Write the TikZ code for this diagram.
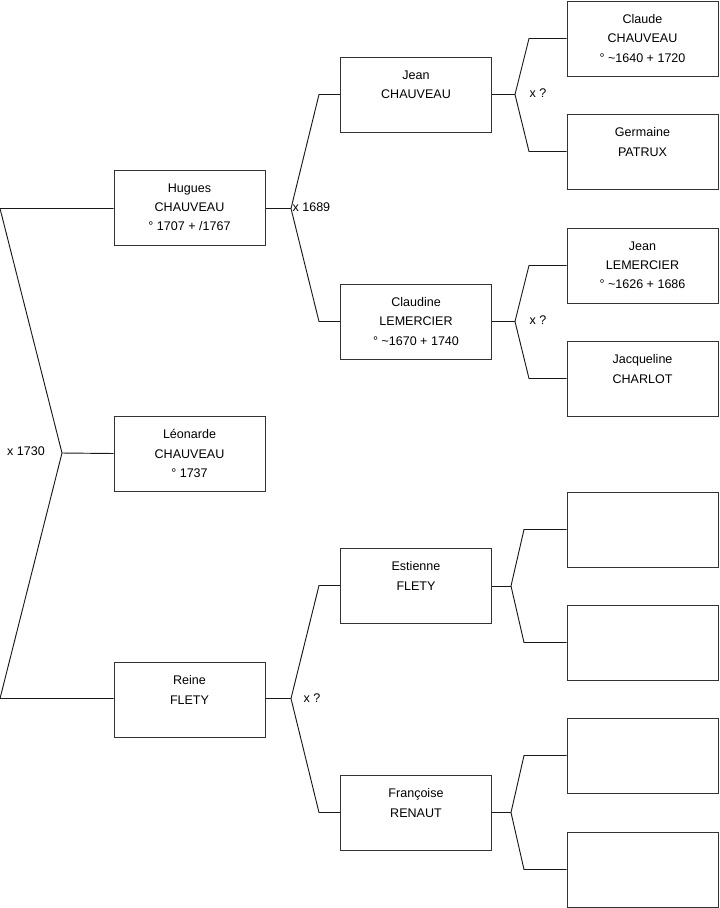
\documentclass[tikz,border=0pt]{standalone}
\usepackage{fontspec}
\setmainfont{Liberation Sans}
\usetikzlibrary{positioning}

\tikzset{
  person/.style={draw=black!80, line width=0.75pt, minimum width=113.25pt, minimum height=56.25pt,
                 align=center, font=\fontsize{9.4}{14.4}\selectfont, inner sep=0pt},
  link/.style={black!90, line width=0.7pt},
  union/.style={font=\fontsize{9.4}{11}\selectfont, inner sep=1pt}
}

\begin{document}
\begin{tikzpicture}[x=0.75pt, y=-0.75pt]
  \useasboundingbox (0,0) rectangle (719,908);
  % generation 1 and 2
  \node[person] (hugues)    at (189.5,207.5) {Hugues\\CHAUVEAU\\° 1707 + /1767};
  \node[person] (leonarde)  at (189.5,453.5) {Léonarde\\CHAUVEAU\\° 1737};
  \node[person] (reine)     at (189.5,699.5) {Reine\\FLETY\\\mbox{}};
  % generation 3
  \node[person] (jeanC)     at (416,94.5)  {Jean\\CHAUVEAU\\\mbox{}};
  \node[person] (claudine)  at (416,321.5) {Claudine\\LEMERCIER\\° \textasciitilde1670 + 1740};
  \node[person] (estienne)  at (416,585.5) {Estienne\\FLETY\\\mbox{}};
  \node[person] (francoise) at (416,812.5) {Françoise\\RENAUT\\\mbox{}};
  % generation 4
  \node[person] (claude)     at (642.5,38.5)  {Claude\\CHAUVEAU\\° \textasciitilde1640 + 1720};
  \node[person] (germaine)   at (642.5,151.5) {Germaine\\PATRUX\\\mbox{}};
  \node[person] (jeanL)      at (642.5,265.5) {Jean\\LEMERCIER\\° \textasciitilde1626 + 1686};
  \node[person] (jacqueline) at (642.5,378.5) {Jacqueline\\CHARLOT\\\mbox{}};
  \foreach \k/\y in {1/529.5,2/642.5,3/755.5,4/869.5}
    \node[person] (empty\k) at (642.5,\y) {};

  % couple of Léonarde
  \coordinate (xL) at (62,453);
  \coordinate (bLa) at (0,208.5);
  \coordinate (bLb) at (0,698.5);
  \draw[link] (leonarde.west) -- (xL);
  \draw[link] (hugues.west |- bLa) -- (bLa) -- (xL) -- (bLb) -- (reine.west |- bLb);
  \node[union] (uL) at (26,451.5) {x 1730};

  % couples of the next generations
  \foreach \child/\ax/\ay/\bx/\fa/\mo in {hugues/291/208.5/319/jeanC/claudine,
      reine/291/698.5/319/estienne/francoise,
      jeanC/515/94.5/529/claude/germaine,
      claudine/515/321.5/529/jeanL/jacqueline,
      estienne/511/586/524/empty1/empty2,
      francoise/511/812.5/524/empty3/empty4}{
    \coordinate (x\child) at (\ax,\ay);
    \draw[link] (\child.east |- x\child) -- (x\child);
    \draw[link] (x\child) -- (\bx,0 |- \fa.west) -- (\fa.west);
    \draw[link] (x\child) -- (\bx,0 |- \mo.west) -- (\mo.west);
  }
  \node[union, anchor=west] (uH) at (291,207) {x 1689};
  \node[union] (uR)  at (312,698) {x ?};
  \node[union] (uJ)  at (538,93)  {x ?};
  \node[union] (uC)  at (538,320) {x ?};
\end{tikzpicture}
\end{document}
